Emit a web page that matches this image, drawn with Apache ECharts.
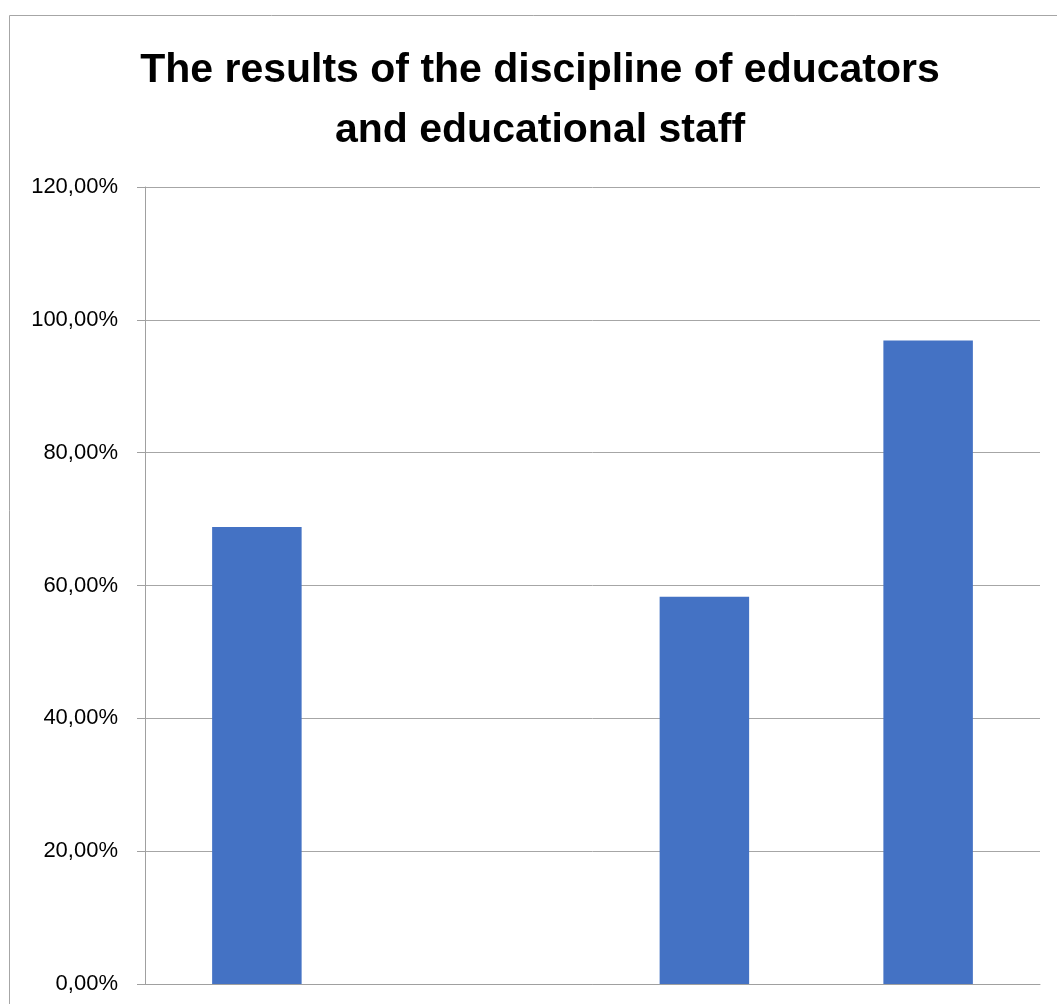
<!DOCTYPE html>
<html>
<head>
<meta charset="utf-8">
<script src="https://cdn.jsdelivr.net/npm/echarts@6/dist/echarts.min.js"></script>
<style>
html,body{margin:0;padding:0;background:#fff;}
#c{width:1057px;height:1004px;}
</style>
</head>
<body>
<div id="c"></div>
<script>
var titleLines = ['The results of the discipline of educators', 'and educational staff'];
var categories = ['1', '2', '3', '4'];
var values = [0.688, null, 0.583, 0.969];
var yTickLabels = ['0,00%', '20,00%', '40,00%', '60,00%', '80,00%', '100,00%', '120,00%'];

var chart = echarts.init(document.getElementById('c'), null, {renderer: 'canvas'});
chart.setOption({
  animation: false,
  backgroundColor: '#fff',
  graphic: [
    {type: 'rect', shape: {x: 9.5, y: 15.5, width: 1200, height: 1200}, style: {fill: 'none', stroke: '#a6a6a6', lineWidth: 1}, silent: true},
    {type: 'text', x: 540, y: 41, style: {text: titleLines.join('\n'), textAlign: 'center', font: 'bold 41px "Liberation Sans", Arial, sans-serif', lineHeight: 60, fill: '#000'}}
  ],
  grid: {left: 145, right: 17, top: 187, bottom: 20, containLabel: false},
  xAxis: {
    type: 'category',
    data: categories,
    axisLine: {show: true, lineStyle: {color: '#a0a0a0', width: 1}},
    axisTick: {show: false},
    axisLabel: {show: false},
    splitLine: {show: false}
  },
  yAxis: {
    type: 'value',
    min: 0, max: 1.2, interval: 0.2,
    axisLine: {show: true, lineStyle: {color: '#a0a0a0', width: 1}},
    axisTick: {show: true, length: 8, lineStyle: {color: '#a0a0a0'}},
    splitLine: {show: true, lineStyle: {color: '#a6a6a6', width: 1}},
    axisLabel: {
      margin: 27,
      fontFamily: '"Liberation Sans", Arial, sans-serif',
      fontSize: 22,
      color: '#000',
      formatter: function (v) { return yTickLabels[Math.round(v / 0.2)]; }
    }
  },
  series: [{
    type: 'bar',
    data: values,
    barWidth: '40%',
    itemStyle: {color: '#4472C4'}
  }]
});
</script>
</body>
</html>
